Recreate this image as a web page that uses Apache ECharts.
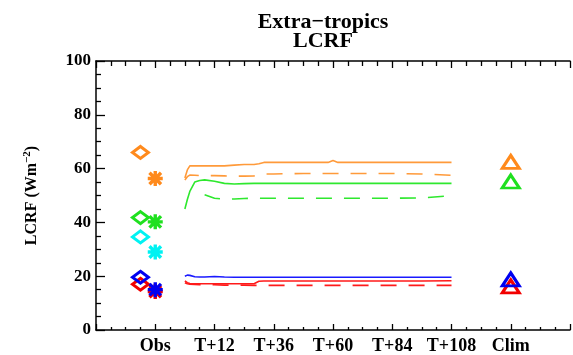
<!DOCTYPE html>
<html><head><meta charset="utf-8">
<script src="https://cdn.jsdelivr.net/npm/echarts@6/dist/echarts.min.js"></script>
<style>html,body{margin:0;padding:0;background:#fff}#c{width:573px;height:355px}</style>
</head><body><div id="c"></div>
<script>
// x-axis tick labels (hours relative to forecast start; Obs at -12, Clim at 132)
const tickHours = [-12, 12, 36, 60, 84, 108, 132];
const tickLabels = ['Obs', 'T+12', 'T+36', 'T+60', 'T+84', 'T+108', 'Clim'];
const yTicks = [0, 20, 40, 60, 80, 100];

// Observations: diamonds and asterisks (two obs datasets)
const obsDiamond = { orange: 66, green: 41.8, cyan: 34.6, red: 17, blue: 19.6 };
const obsStar = { orange: 56.3, green: 40.2, cyan: 29, red: 14.3, blue: 15 };
// Climate runs: triangles
const climTri = { orange: 62.5, green: 55.2, red: 16.2, blue: 18.8 };

// Forecast lead-time series
const leadHours   = [0, 1, 2, 4, 6, 8, 12, 16, 20, 24, 28, 30, 32, 36, 48, 58, 60, 62, 72, 84, 96, 108];
const orangeSolid = [56.5, 59.5, 61, 61, 61, 61, 61, 61, 61.3, 61.5, 61.5, 61.8, 62.3, 62.3, 62.3, 62.3, 63, 62.3, 62.3, 62.3, 62.3, 62.3];
const orangeDash  = [55.8, 57, 57.6, 57.5, 57.4, 57.4, 57.4, 57.3, 57.2, 57.2, 57.3, 57.8, 58, 58, 58.2, 58.2, 58.2, 58.2, 58.2, 58.2, 58, 57.5];
const greenSolid  = [45, 48.5, 51.5, 55, 55.6, 55.8, 55.3, 54.5, 54.3, 54.4, 54.5, 54.5, 54.5, 54.5, 54.5, 54.5, 54.5, 54.5, 54.5, 54.5, 54.5, 54.5];
const greenDash   = [null, null, null, null, null, 50.3, 49, 48.6, 48.7, 48.9, 49, 49, 49, 49, 49, 49, 49, 49, 49, 49, 49.1, 49.9];
const blueSolid   = [20, 20.4, 20.3, 19.8, 19.7, 19.7, 19.9, 19.7, 19.6, 19.6, 19.6, 19.6, 19.6, 19.6, 19.6, 19.6, 19.6, 19.6, 19.6, 19.6, 19.6, 19.6];
const redSolid    = [18.3, 17.6, 17.3, 17.2, 17.2, 17.2, 17.2, 17.2, 17.2, 17.2, 17.2, 18.1, 18.2, 18.2, 18.2, 18.2, 18.2, 18.2, 18.2, 18.2, 18.2, 18.3];
const redDash     = [17.6, 17.2, 17, 16.9, 16.8, 16.8, 16.8, 16.7, 16.7, 16.7, 16.6, 16.6, 16.6, 16.6, 16.6, 16.6, 16.6, 16.6, 16.6, 16.6, 16.6, 16.6];

const OFF = 36; // axis starts at -36 h
const COL = { orange: '#ff8a1c', green: '#1fe01f', cyan: '#00f2f2', red: '#f20000', blue: '#0000f0' };
const LCOL = { orange: '#ff9a3a', green: '#2ee82e', red: '#ff1a1a', blue: '#1a1aff' };
const FONT = '"Liberation Serif", "DejaVu Serif", serif';
const STAR = 'path://M0,0L10,10M10,0L0,10M5,-1.5L5,11.5M-1.5,5L11.5,5';

function lineSeries(vals, color, dashed) {
  return {
    type: 'line', xAxisIndex: 0, yAxisIndex: 0, symbol: 'none', smooth: false,
    data: leadHours.map((h, i) => [h + OFF, vals[i]]),
    lineStyle: { color: color, width: 1.6, type: dashed ? [16, 12] : 'solid' },
    connectNulls: false, z: 2, animation: false
  };
}
function markerSeries(x, val, color, symbol, size) {
  return {
    type: 'scatter', xAxisIndex: 0, yAxisIndex: 0, symbol: symbol, symbolSize: size,
    data: [[x + OFF, val]],
    itemStyle: { color: symbol === STAR ? color : 'rgba(0,0,0,0)', borderColor: color, borderWidth: symbol === STAR ? 3.4 : 3, opacity: 1 },
    z: 3, animation: false, silent: true
  };
}

const series = [
  lineSeries(orangeSolid, LCOL.orange, false),
  lineSeries(orangeDash, LCOL.orange, true),
  lineSeries(greenSolid, LCOL.green, false),
  lineSeries(greenDash, LCOL.green, true),
  lineSeries(redDash, LCOL.red, true),
  lineSeries(redSolid, LCOL.red, false),
  lineSeries(blueSolid, LCOL.blue, false),
];
['orange', 'green', 'cyan', 'red', 'blue'].forEach(k => {
  series.push(markerSeries(-18, obsDiamond[k], COL[k], 'diamond', [16, 12]));
  series.push(markerSeries(-12, obsStar[k], COL[k], STAR, [15, 15]));
});
['orange', 'green', 'red', 'blue'].forEach(k => {
  series.push(markerSeries(132, climTri[k], COL[k], 'triangle', [17, 13]));
});

const chart = echarts.init(document.getElementById('c'), null, { renderer: 'canvas' });
const tickMap = {};
tickHours.forEach((h, i) => tickMap[h + OFF] = tickLabels[i]);

chart.setOption({
  animation: false,
  backgroundColor: '#fff',
  title: {
    text: 'Extra\u2212tropics\nLCRF', left: 318, top: 8, textAlign: 'center',
    textStyle: { fontFamily: FONT, fontWeight: 'bold', fontSize: 22, lineHeight: 19, color: '#000' }
  },
  grid: { left: 96, right: -18, top: 61, bottom: 25, containLabel: false },
  xAxis: [{
    type: 'value', position: 'bottom', min: 0, max: 192, interval: 24,
    axisLine: { show: true, lineStyle: { color: '#000', width: 1.5 } },
    axisTick: { show: true, inside: true, length: 6, lineStyle: { color: '#000', width: 1.3 } },
    minorTick: { show: true, splitNumber: 4, length: 3, lineStyle: { color: '#000', width: 1.3 } },
    splitLine: { show: false },
    axisLabel: {
      show: true, margin: 7, fontFamily: FONT, fontWeight: 'bold', fontSize: 18, color: '#000',
      formatter: v => tickMap[v] || ''
    }
  }, {
    type: 'value', position: 'top', min: 0, max: 192, interval: 24,
    axisLine: { show: true, lineStyle: { color: '#000', width: 1.5 } },
    axisTick: { show: true, inside: true, length: 7, lineStyle: { color: '#000', width: 1.3 } },
    minorTick: { show: true, splitNumber: 4, length: 5, lineStyle: { color: '#000', width: 1.3 } },
    splitLine: { show: false }, axisLabel: { show: false }
  }],
  yAxis: [{
    type: 'value', min: 0, max: 100, interval: 20,
    axisLine: { show: true, lineStyle: { color: '#000', width: 1.5 } },
    axisTick: { show: true, inside: true, length: 9, lineStyle: { color: '#000', width: 1.3 } },
    minorTick: { show: true, splitNumber: 4, length: 5, lineStyle: { color: '#000', width: 1.3 } },
    splitLine: { show: false },
    axisLabel: { show: true, margin: 5, fontFamily: FONT, fontWeight: 'bold', fontSize: 17, color: '#000',
      formatter: v => yTicks.includes(v) ? String(v) : '' },
    name: '{a|LCRF (Wm}{b|\u22122}{a|)}', nameLocation: 'middle', nameGap: 54, nameRotate: 90,
    nameTextStyle: {
      rich: {
        a: { fontFamily: FONT, fontWeight: 'bold', fontSize: 16, color: '#000' },
        b: { fontFamily: FONT, fontWeight: 'bold', fontSize: 11, color: '#000', padding: [0, 0, 9, 0] }
      }
    }
  }],
  series: series
});
</script></body></html>
